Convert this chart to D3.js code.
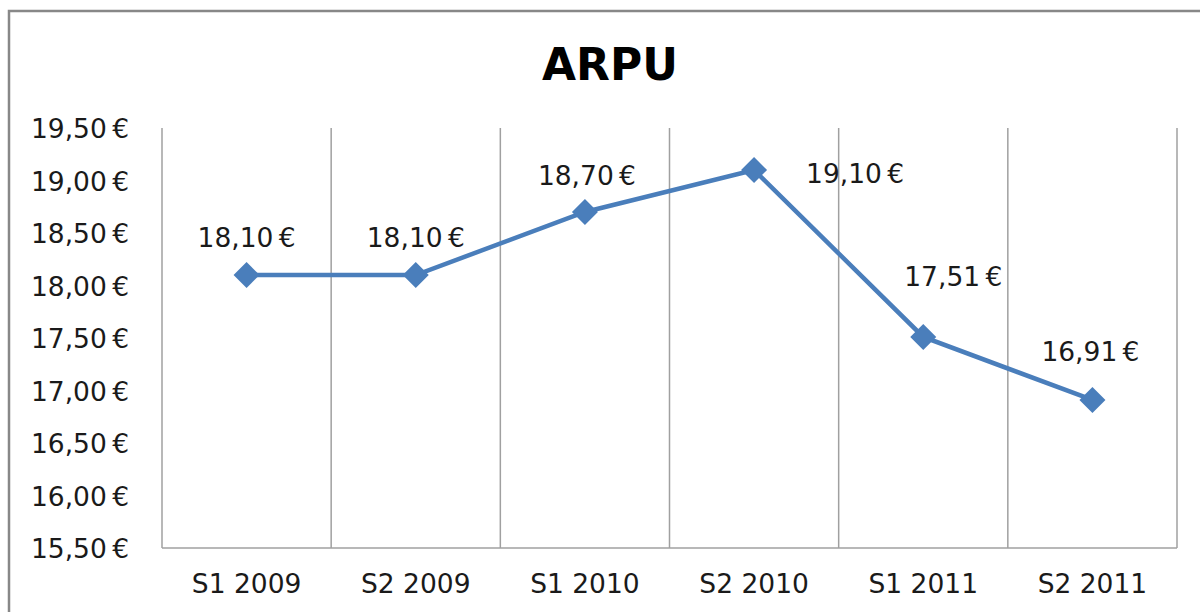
<!DOCTYPE html>
<html><head><meta charset="utf-8">
<script src="https://cdn.jsdelivr.net/npm/d3@7/dist/d3.min.js"></script>
<style>body{margin:0;background:#fff}svg{display:block}</style>
</head><body>
<svg id="c" width="1200" height="612"></svg>
<script>
const categories = ["S1 2009","S2 2009","S1 2010","S2 2010","S1 2011","S2 2011"];
const arpu = [18.10, 18.10, 18.70, 19.10, 17.51, 16.91];
const yTicks = [15.5,16,16.5,17,17.5,18,18.5,19,19.5];
const title = "ARPU";

const fmt = v => v.toFixed(2).replace(".", ",") + "\u2009€";
const svg = d3.select("#c");
const font = "'DejaVu Sans', sans-serif";
const fs = 26.5;
const m = {l:162, r:1177, t:128, b:548};

// outer frame
svg.append("rect").attr("x",9).attr("y",11).attr("width",1300).attr("height",700)
  .attr("fill","none").attr("stroke","#888").attr("stroke-width",2.5);

svg.append("text").attr("x",610).attr("y",80).attr("text-anchor","middle")
  .attr("font-family",font).attr("font-weight","bold").attr("font-size",44)
  .attr("fill","#000").text(title);

const x = d3.scaleBand().domain(categories).range([m.l,m.r]);
const y = d3.scaleLinear().domain([15.5,19.5]).range([m.b,m.t]);

// vertical gridlines at category boundaries
const bounds = categories.map(c => x(c)).concat([m.r]);
svg.append("g").selectAll("line").data(bounds).join("line")
  .attr("x1",d=>d).attr("x2",d=>d).attr("y1",m.t).attr("y2",m.b)
  .attr("stroke","#a0a0a0").attr("stroke-width",1.5);

// bottom axis
const xAxis = svg.append("g").attr("transform",`translate(0,${m.b})`)
  .call(d3.axisBottom(x).tickSize(0).tickPadding(0));
xAxis.select(".domain").attr("stroke","#a0a0a0").attr("stroke-width",1.5).attr("d",`M${m.l},0H${m.r}`);
xAxis.selectAll("text").attr("font-family",font).attr("font-size",fs).attr("fill","#1a1a1a")
  .attr("dy",null).attr("y",45);

// left axis labels
const yAxis = svg.append("g").attr("transform",`translate(${m.l},0)`)
  .call(d3.axisLeft(y).tickValues(yTicks).tickSize(0).tickPadding(33).tickFormat(fmt));
yAxis.select(".domain").remove();
yAxis.selectAll("text").attr("font-family",font).attr("font-size",fs).attr("fill","#1a1a1a")
  .attr("dy","0.36em");

const cx = d => x(d) + x.bandwidth()/2;
const pts = categories.map((c,i)=>[cx(c), y(arpu[i])]);

svg.append("path").datum(pts).attr("d",d3.line())
  .attr("fill","none").attr("stroke","#4a7ebb").attr("stroke-width",4.5);

svg.append("g").selectAll("path").data(pts).join("path")
  .attr("transform",d=>`translate(${d[0]},${d[1]})`)
  .attr("d","M0,-13L13,0L0,13L-13,0Z").attr("fill","#4a7ebb");

// data labels placement (dx, dy relative to point; anchor)
const place = [[0,-28,"middle"],[0,-28,"middle"],[2,-27,"middle"],[52,13,"start"],[30,-51,"middle"],[-2,-39,"middle"]];
svg.append("g").selectAll("text").data(pts).join("text")
  .attr("x",(d,i)=>d[0]+place[i][0]).attr("y",(d,i)=>d[1]+place[i][1])
  .attr("text-anchor",(d,i)=>place[i][2])
  .attr("font-family",font).attr("font-size",fs).attr("fill","#1a1a1a")
  .text((d,i)=>fmt(arpu[i]));
</script>
</body></html>
